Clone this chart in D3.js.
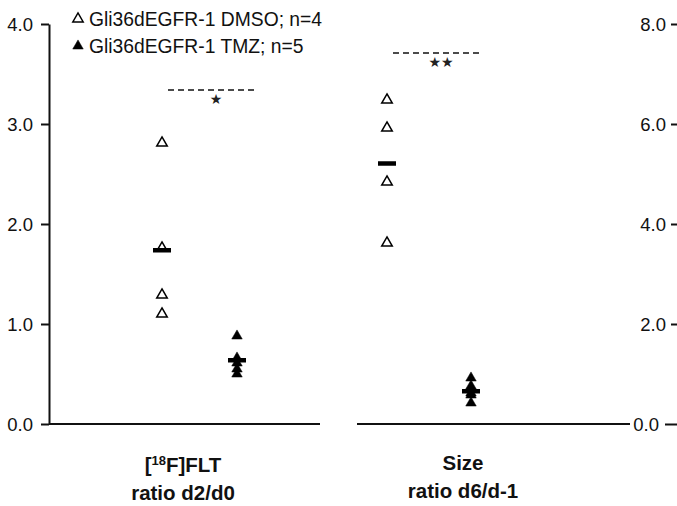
<!DOCTYPE html>
<html>
<head>
<meta charset="utf-8">
<script src="https://cdn.jsdelivr.net/npm/d3@7"></script>
<style>
  body { margin: 0; background: #fff; }
  svg { display: block; font-family: "Liberation Sans", Arial, sans-serif; }
</style>
</head>
<body>
<div id="chart"></div>
<script>
// values
let groups = ['DMSO', 'TMZ'];
let legendLabels = ['Gli36dEGFR-1 DMSO; n=4', 'Gli36dEGFR-1 TMZ; n=5'];
let fltDmso = [2.81, 1.76, 1.29, 1.10];
let fltTmz = [0.88, 0.66, 0.61, 0.55, 0.50];
let sizeDmso = [6.48, 5.92, 4.84, 3.62];
let sizeTmz = [0.92, 0.76, 0.62, 0.58, 0.42];
let fltTicks = [0, 1, 2, 3, 4];
let sizeTicks = [0, 2, 4, 6, 8];
let fltSig = {value: 3.34, label: '★'};
let sizeSig = {value: 7.42, label: '★★'};

let width = 677,
    height = 506;

let svg = d3.select('#chart').append('svg')
    .attr('width', width)
    .attr('height', height);

let fltY = d3.scaleLinear().domain([0, 4]).range([424, 24]);
let sizeY = d3.scaleLinear().domain([0, 8]).range([424, 24]);

let fltX = d3.scalePoint().domain(groups).range([162, 237]);
let sizeX = d3.scalePoint().domain(groups).range([387, 471]);

// left axis
let leftAxis = svg.append('g')
    .attr('transform', 'translate(49,0)')
    .call(d3.axisLeft(fltY).tickValues(fltTicks).tickFormat(d3.format('.1f')).tickSize(8).tickSizeOuter(0));

// right axis (line sits just past the edge)
let rightAxis = svg.append('g')
    .attr('transform', 'translate(678,0)')
    .call(d3.axisLeft(sizeY).tickValues(sizeTicks).tickFormat(d3.format('.1f')).tickSize(7).tickSizeOuter(0));

[leftAxis, rightAxis].forEach(function (g) {
    g.selectAll('path, line').attr('stroke', '#111').attr('stroke-width', 2);
    g.selectAll('text')
        .attr('fill', '#111')
        .style('font-size', '18.5px')
        .attr('dy', '0.36em');
});
leftAxis.selectAll('text').attr('x', -16);
rightAxis.selectAll('text').attr('x', -12);
// zero tick on the right is drawn longer
rightAxis.selectAll('.tick')
    .filter(d => d === 0)
    .call(function (t) {
        t.select('line').attr('x2', -13);
        t.select('text').attr('x', -19);
    });

// baselines
svg.append('line')
    .attr('x1', 49).attr('x2', 320)
    .attr('y1', fltY(0)).attr('y2', fltY(0))
    .attr('stroke', '#111').attr('stroke-width', 2);
svg.append('line')
    .attr('x1', 357).attr('x2', 630)
    .attr('y1', sizeY(0)).attr('y2', sizeY(0))
    .attr('stroke', '#111').attr('stroke-width', 2);

let tri = d3.symbol().type(d3.symbolTriangle).size(48);

function drawGroup(values, x, y, filled) {
    let g = svg.append('g');
    g.selectAll('path')
        .data(values)
        .join('path')
        .attr('d', tri)
        .attr('transform', d => `translate(${x},${y(d)})`)
        .attr('fill', filled ? '#000' : '#fff')
        .attr('stroke', '#000')
        .attr('stroke-width', filled ? 0.5 : 1.5);
    let m = d3.mean(values);
    g.append('rect')
        .attr('x', x - 9)
        .attr('y', y(m) - 2)
        .attr('width', 18)
        .attr('height', 4.5)
        .attr('fill', '#000');
}

drawGroup(fltDmso, fltX('DMSO'), fltY, false);
drawGroup(fltTmz, fltX('TMZ'), fltY, true);
drawGroup(sizeDmso, sizeX('DMSO'), sizeY, false);
drawGroup(sizeTmz, sizeX('TMZ'), sizeY, true);

// significance lines
function drawSig(sig, x1, x2, y) {
    svg.append('line')
        .attr('x1', x1).attr('x2', x2)
        .attr('y1', y(sig.value)).attr('y2', y(sig.value))
        .attr('stroke', '#111')
        .attr('stroke-width', 1.5)
        .attr('stroke-dasharray', '6,4');
    svg.append('text')
        .attr('x', (x1 + x2) / 2 + 3)
        .attr('y', y(sig.value) + 14)
        .attr('text-anchor', 'middle')
        .style('font-size', '14px')
        .style('font-family', 'DejaVu Sans')
        .attr('fill', '#222')
        .text(sig.label);
}
drawSig(fltSig, 168, 258, fltY);
drawSig(sizeSig, 393, 483, sizeY);

// legend
let legend = svg.append('g');
legendLabels.forEach(function (label, i) {
    let ly = 19 + i * 27;
    legend.append('path')
        .attr('d', tri)
        .attr('transform', `translate(78,${ly})`)
        .attr('fill', i === 0 ? '#fff' : '#000')
        .attr('stroke', '#000')
        .attr('stroke-width', i === 0 ? 1.4 : 0.5);
    legend.append('text')
        .attr('x', 89)
        .attr('y', ly + 7)
        .style('font-size', '19.3px')
        .attr('fill', '#111')
        .text(label);
});

// category labels
function catLabel(x, y, text) {
    return svg.append('text')
        .attr('x', x).attr('y', y)
        .attr('text-anchor', 'middle')
        .style('font-size', '20.5px')
        .style('font-weight', 'bold')
        .attr('fill', '#111')
        .text(text);
}
let cat1 = catLabel(183, 472, null);
cat1.append('tspan').text('[');
cat1.append('tspan').attr('dy', -7).style('font-size', '13px').text('18');
cat1.append('tspan').attr('dy', 7).text('F]FLT');
catLabel(183, 500, 'ratio d2/d0');
catLabel(463, 470, 'Size');
catLabel(463, 498, 'ratio d6/d-1');
</script>
</body>
</html>
